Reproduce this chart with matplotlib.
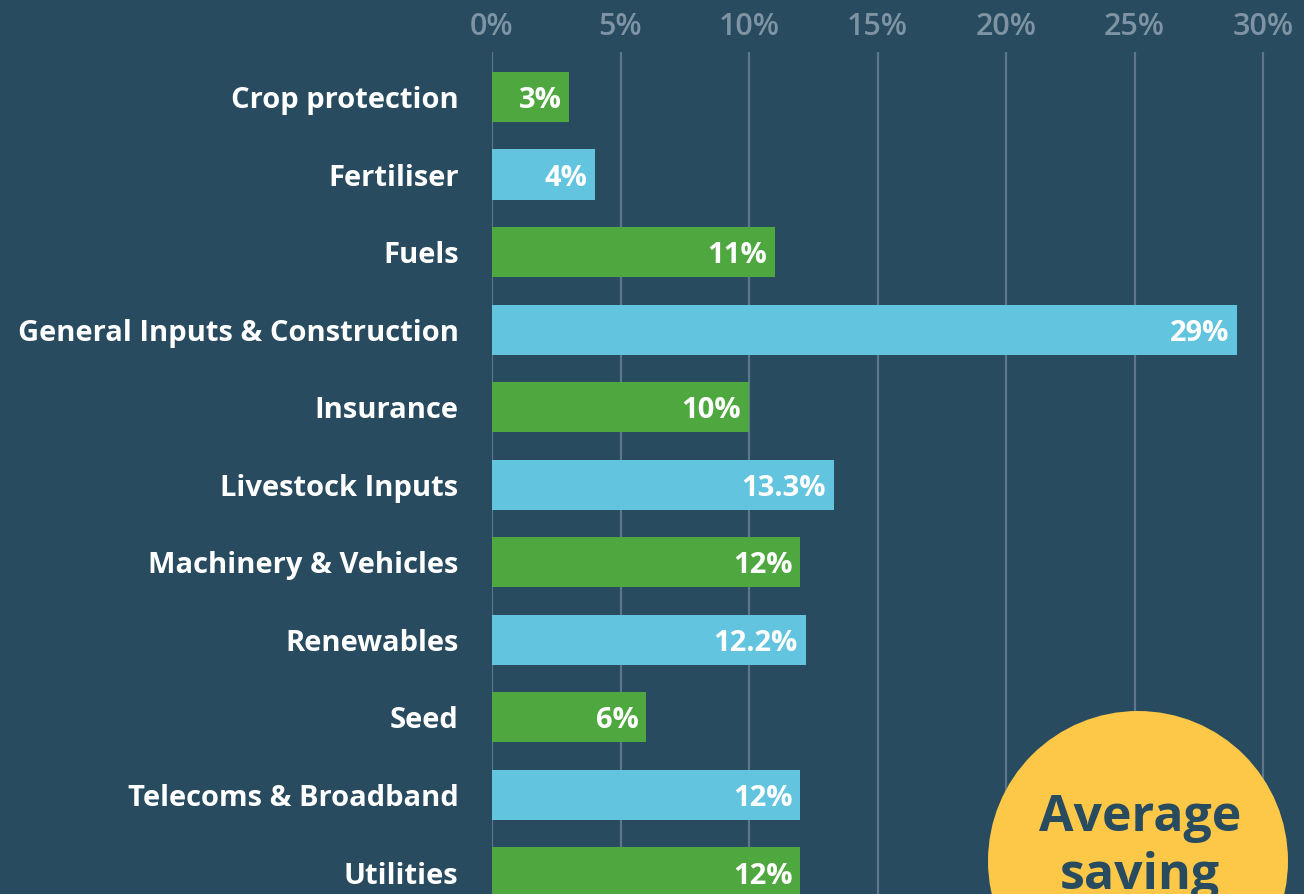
import matplotlib.pyplot as plt
from matplotlib.patches import Circle

categories = ["Crop protection", "Fertiliser", "Fuels", "General Inputs & Construction",
              "Insurance", "Livestock Inputs", "Machinery & Vehicles", "Renewables",
              "Seed", "Telecoms & Broadband", "Utilities"]
values = [3, 4, 11, 29, 10, 13.3, 12, 12.2, 6, 12, 12]
value_labels = ["3%", "4%", "11%", "29%", "10%", "13.3%", "12%", "12.2%", "6%", "12%", "12%"]
ticks = [0, 5, 10, 15, 20, 25, 30]
tick_labels = ["0%", "5%", "10%", "15%", "20%", "25%", "30%"]

bg = "#284b5f"
green = "#4ea83f"
blue = "#62c4de"
grid = "#5d7689"

fig = plt.figure(figsize=(13.04, 8.95), dpi=100, facecolor=bg)
ax = fig.add_axes([492 / 1304, 0, 1 - 492 / 1304, (895 - 53) / 895])
ax.set_facecolor(bg)

px_per = 25.7
ax.set_xlim(0, (1304 - 492) / px_per)
ax.set_ylim(10.28, -0.58)

for t in ticks:
    ax.axvline(t, color=grid, lw=1.6, zorder=0)

colors = [green if i % 2 == 0 else blue for i in range(len(values))]
ax.barh(range(len(values)), values, height=0.645, color=colors, zorder=2)

# small downward nudge so text sits visually centred on the bars
dy = 0.035
for i, (v, lab) in enumerate(zip(values, value_labels)):
    ax.text(v - 0.3, i + dy, lab, ha="right", va="center", color="white",
            fontsize=21, fontweight="bold", family="Open Sans", zorder=3)
    ax.text(-1.3, i + dy, categories[i], ha="right", va="center", color="white",
            fontsize=21, fontweight="bold", family="Open Sans", clip_on=False)

for t, lab in zip(ticks, tick_labels):
    ax.text(t, -0.92, lab, ha="center", va="center", color="#7e93a3",
            fontsize=22, fontweight="semibold", family="Open Sans", clip_on=False)

ax.set_xticks([])
ax.set_yticks([])
for s in ax.spines.values():
    s.set_visible(False)

# yellow badge
circ = Circle((11.38, (895 - 862) / 100), 1.5, transform=fig.dpi_scale_trans,
              facecolor="#fdc748", edgecolor="none", zorder=5)
fig.patches.append(circ)
fig.text(1140 / 1304, 1 - 818 / 895, "Average", ha="center", va="center", color=bg,
         fontsize=36, fontweight="bold", family="Open Sans", zorder=6)
fig.text(1140 / 1304, 1 - 876 / 895, "saving", ha="center", va="center", color=bg,
         fontsize=36, fontweight="bold", family="Open Sans", zorder=6)

fig.savefig("out.png", dpi=100, facecolor=bg)
